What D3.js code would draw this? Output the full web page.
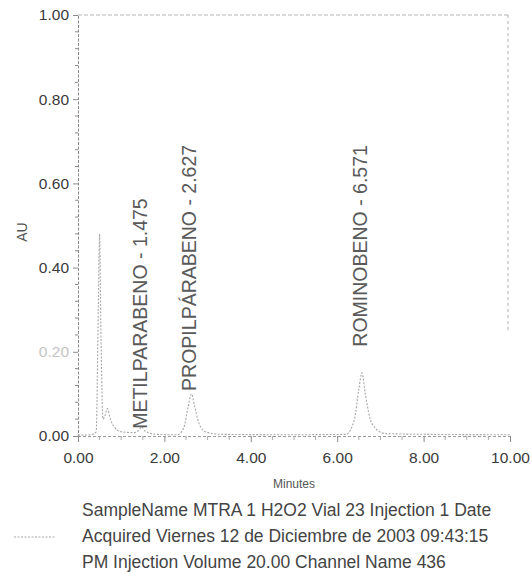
<!DOCTYPE html>
<html>
<head>
<meta charset="utf-8">
<script src="https://cdn.jsdelivr.net/npm/d3@7/dist/d3.min.js"></script>
<style>
  html, body { margin: 0; padding: 0; background: #fff; }
  svg { display: block; font-family: "Liberation Sans", Arial, sans-serif; }
</style>
</head>
<body>
<svg id="chart" width="532" height="572"></svg>
<script>
// ---- data ----
const timeMin = [0, 0.30, 0.42, 0.47, 0.50, 0.53, 0.58, 0.63, 0.68, 0.75, 0.85, 1.00, 1.30, 1.42, 1.475, 1.55, 1.80, 2.30, 2.45, 2.55, 2.627, 2.70, 2.80, 2.95, 3.30, 5.00, 6.20, 6.40, 6.50, 6.571, 6.65, 6.80, 7.10, 8.00, 10.00];
const absAU   = [0.002, 0.003, 0.010, 0.300, 0.480, 0.250, 0.040, 0.050, 0.065, 0.040, 0.020, 0.010, 0.008, 0.015, 0.022, 0.012, 0.004, 0.003, 0.020, 0.070, 0.100, 0.070, 0.030, 0.010, 0.004, 0.003, 0.004, 0.040, 0.110, 0.150, 0.100, 0.030, 0.006, 0.004, 0.003];

const peakNames = ["METILPARABENO - 1.475", "PROPILPÁRABENO - 2.627", "ROMINOBENO - 6.571"];
const peakTimes = [1.475, 2.627, 6.571];
const peakLabelAU = [0.010, 0.100, 0.205];

const yTicks = [0.00, 0.20, 0.40, 0.60, 0.80, 1.00];
const yTickLabels = ["0.00", "0.20", "0.40", "0.60", "0.80", "1.00"];
const xTicks = [0, 2, 4, 6, 8, 10];
const xTickLabels = ["0.00", "2.00", "4.00", "6.00", "8.00", "10.00"];

const xTitle = "Minutes";
const yTitle = "AU";
const infoLines = [
  "SampleName MTRA 1 H2O2 Vial 23 Injection 1 Date",
  "Acquired Viernes 12 de Diciembre de 2003 09:43:15",
  "PM Injection Volume 20.00 Channel Name 436"
];

// ---- layout ----
const svg = d3.select("#chart");
const L = 78, R = 510, T = 15, B = 436;
const x = d3.scaleLinear().domain([0, 10]).range([L, R]);
const y = d3.scaleLinear().domain([0, 1]).range([B, T]);

const axisColor = "#8a8a8a";
const textColor = "#3a3a3a";

// frame (top & right, faint dashed)
svg.append("line").attr("x1", L).attr("x2", R - 2).attr("y1", T).attr("y2", T)
  .attr("stroke", "#b5b5b5").attr("stroke-dasharray", "4,2").attr("stroke-width", 1);
svg.append("line").attr("x1", R - 2).attr("x2", R - 2).attr("y1", T).attr("y2", 330)
  .attr("stroke", "#b0b0b0").attr("stroke-dasharray", "3,3").attr("stroke-width", 1);

// y axis
const yAxis = d3.axisLeft(y).tickValues(yTicks).tickFormat((d, i) => yTickLabels[i]).tickSize(5).tickPadding(4);
const gy = svg.append("g").attr("transform", `translate(${L},0)`).call(yAxis);
gy.select(".domain").attr("stroke", axisColor).attr("stroke-dasharray", "3,1.5");
gy.selectAll(".tick line").attr("stroke", axisColor);
gy.selectAll(".tick text").attr("fill", (d) => d === 0.2 ? "#c4c4c4" : textColor)
  .attr("font-size", 15.5).attr("font-family", "Liberation Sans, Arial, sans-serif");
// y minor ticks
const yMinor = d3.range(0, 1.0001, 0.04).filter(v => !yTicks.some(t => Math.abs(t - v) < 1e-6));
svg.append("g").selectAll("line").data(yMinor).join("line")
  .attr("x1", L - 3).attr("x2", L).attr("y1", d => y(d)).attr("y2", d => y(d))
  .attr("stroke", axisColor);

// x axis
const xAxis = d3.axisBottom(x).tickValues(xTicks).tickFormat((d, i) => xTickLabels[i]).tickSize(6).tickPadding(10);
const gx = svg.append("g").attr("transform", `translate(0,${B})`).call(xAxis);
gx.select(".domain").attr("stroke", "#9a9a9a").attr("stroke-dasharray", "3,2");
gx.selectAll(".tick line").attr("stroke", axisColor);
gx.selectAll(".tick text").attr("fill", textColor).attr("font-size", 15.5)
  .attr("font-family", "Liberation Sans, Arial, sans-serif");
const xMinor = d3.range(0, 10.0001, 0.5).filter(v => !xTicks.includes(v));
svg.append("g").selectAll("line").data(xMinor).join("line")
  .attr("x1", d => x(d)).attr("x2", d => x(d)).attr("y1", B).attr("y2", B + 4)
  .attr("stroke", "#aaa");

// axis titles
svg.append("text").attr("x", x(5)).attr("y", 488).attr("text-anchor", "middle")
  .attr("font-size", 12).attr("fill", "#555").text(xTitle);
svg.append("text").attr("transform", `translate(27,232) rotate(-90)`).attr("text-anchor", "middle")
  .attr("font-size", 14).attr("fill", "#555").text(yTitle);

// chromatogram trace
const pts = timeMin.map((t, i) => [t, absAU[i]]);
const line = d3.line().x(d => x(d[0])).y(d => y(d[1])).curve(d3.curveMonotoneX);
svg.append("path").datum(pts).attr("d", line)
  .attr("fill", "none").attr("stroke", "#a8a8a8").attr("stroke-width", 1.1)
  .attr("stroke-dasharray", "2,1.5");

// peak labels
svg.append("g").selectAll("text").data(peakNames).join("text")
  .attr("transform", (d, i) => `translate(${x(peakTimes[i]) + 5},${y(peakLabelAU[i]) - 3}) rotate(-90)`)
  .attr("text-anchor", "start").attr("font-size", 19.5).attr("fill", "#5a5a5a")
  .text(d => d);

// legend / info
svg.append("line").attr("x1", 14).attr("x2", 56).attr("y1", 537).attr("y2", 537)
  .attr("stroke", "#aaa").attr("stroke-dasharray", "2,1.5");
svg.append("g").selectAll("text").data(infoLines).join("text")
  .attr("x", 82).attr("y", (d, i) => 516 + i * 26)
  .attr("font-size", 17.5).attr("fill", "#444").text(d => d);
</script>
</body>
</html>
